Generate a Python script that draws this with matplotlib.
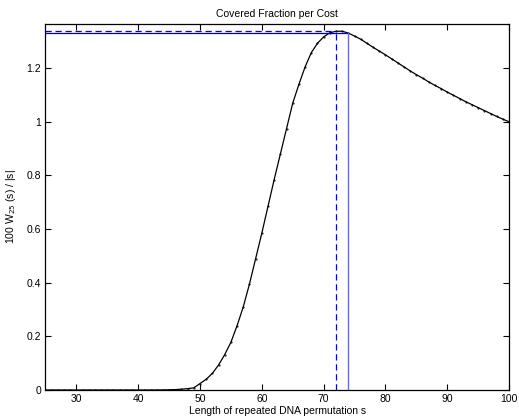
import numpy as np
from matplotlib import pyplot as plt

plt.rcParams['font.family'] = ['Liberation Sans', 'DejaVu Sans']

s = np.arange(25, 101)
w_low = [0.0]*18 + [0.0002, 0.0004, 0.0008, 0.0015, 0.003, 0.005, 0.008, 0.014]   # s = 25..50
w_mid = [0.024, 0.040, 0.062, 0.093, 0.132, 0.178, 0.24, 0.31, 0.395, 0.49,
         0.585, 0.685, 0.785, 0.88, 0.975, 1.07, 1.14, 1.205, 1.258, 1.293,
         1.317, 1.332, 1.338, 1.338, 1.331, 1.32, 1.308, 1.293, 1.278, 1.264]    # s = 50..79
w_high = [1.25, 1.235, 1.22, 1.205, 1.19, 1.176, 1.163, 1.149, 1.136, 1.124,
          1.111, 1.099, 1.087, 1.075, 1.064, 1.053, 1.042, 1.031, 1.02, 1.01, 1.0]  # s = 80..100
w = np.array(w_low[:-1] + w_mid + w_high)

s_approx, v_approx = 72, 1.339   # dashed marker
s_best, v_best = 74, 1.331       # solid marker

fig = plt.figure(figsize=(5.19, 4.18), dpi=100)
ax = fig.add_axes([0.0875, 0.067, 0.8935, 0.8756])

ax.plot(s, w, '.-', color='black', lw=0.9, ms=1.0)
ax.plot([25, s_approx], [v_approx, v_approx], '--', color='blue', lw=0.9, dashes=(5, 3))
ax.plot([s_approx, s_approx], [0, v_approx], '--', color='blue', lw=0.9, dashes=(5, 3))
ax.plot([25, s_best], [v_best, v_best], '-', color='#0000cc', lw=0.9)
ax.plot([s_best, s_best], [0, v_best], '-', color='#6666ff', lw=1.0)

ax.set_xlim(25, 100)
ax.set_ylim(0, 1.365)
ax.set_xticks([30, 40, 50, 60, 70, 80, 90, 100])
ax.set_yticks([0, 0.2, 0.4, 0.6, 0.8, 1, 1.2])
ax.set_yticklabels(['0', '0.2', '0.4', '0.6', '0.8', '1', '1.2'])
ax.tick_params(direction='in', top=True, right=True, length=4, width=0.8, labelsize=7.5, pad=3)
for sp in ax.spines.values():
    sp.set_linewidth(0.9)

ax.set_title('Covered Fraction per Cost', fontsize=7.5, pad=5)
ax.set_xlabel('Length of repeated DNA permutation s', fontsize=7.5, labelpad=1)
ax.set_ylabel('100 W$_{25}$ (s) / |s|', fontsize=7.5, labelpad=6)

fig.savefig('out.png', dpi=100)
